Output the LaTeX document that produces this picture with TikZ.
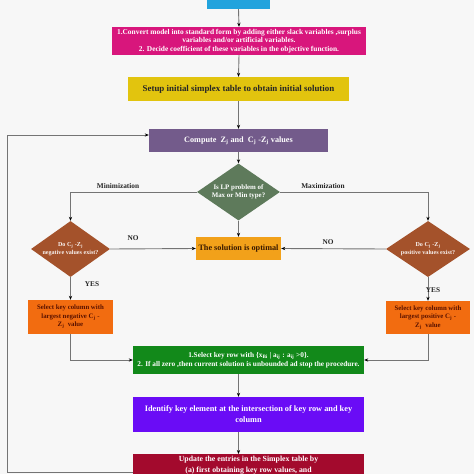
\documentclass[tikz,border=0pt]{standalone}
\usepackage{fontspec}
\setmainfont{Liberation Serif}
\usetikzlibrary{shapes.geometric,arrows.meta,calc}
\definecolor{bgc}{HTML}{F7F7F7}
\definecolor{startc}{HTML}{22A3DD}
\definecolor{pinkc}{HTML}{D8167C}
\definecolor{yellowc}{HTML}{E2C40E}
\definecolor{purplec}{HTML}{735B8B}
\definecolor{greyg}{HTML}{5E7A5B}
\definecolor{optc}{HTML}{F2A11A}
\definecolor{brownc}{HTML}{A4522B}
\definecolor{orangec}{HTML}{F26C10}
\definecolor{greenc}{HTML}{12891A}
\definecolor{violetc}{HTML}{6A0CF6}
\definecolor{redc}{HTML}{A30A2D}
\definecolor{linec}{HTML}{747474}
\definecolor{darktxt}{HTML}{3A1A00}
\definecolor{redtxt}{HTML}{5A1200}
\begin{document}
\begin{tikzpicture}[x=1pt,y=-1pt,
  box/.style={rectangle, inner sep=0.5pt, align=center, text=white,
    font=\bfseries\fontsize{7.4}{8.8}\selectfont},
  dia/.style={diamond, inner sep=0pt, aspect=1.5, align=center, text=white,
    font=\bfseries\fontsize{6.1}{8.4}\selectfont},
  arr/.style={draw=linec, line width=0.9pt, -{Stealth[length=4pt,width=3.2pt,black]}},
  lbl/.style={font=\bfseries\fontsize{7.3}{8}\selectfont, text=black!85}]
\useasboundingbox (0,0) rectangle (474,474);
\clip (0,0) rectangle (474,474);
\fill[bgc] (0,0) rectangle (474,474);

\node[box, fill=startc, minimum width=63pt, minimum height=24pt] (start) at (238.5,-3) {Start};
\node[box, fill=pinkc, minimum width=254pt, minimum height=28pt] (pink) at (239,41)
  {1.Convert model into standard form by adding either slack variables ,surplus\\%
variables and/or artificial variables.\\%
2. Decide coefficient of these variables in the objective function.};
\node[box, fill=yellowc, text=black!85, minimum width=221pt, minimum height=24pt,
  font=\bfseries\fontsize{8.9}{10}\selectfont] (yellow) at (238.5,89)
  {Setup initial simplex table to obtain initial solution};
\node[box, fill=purplec, minimum width=179pt, minimum height=23pt,
  font=\bfseries\fontsize{8.2}{10}\selectfont] (purple) at (238.5,140.5)
  {Compute~ Z\textsubscript{j} and~ C\textsubscript{j} -Z\textsubscript{j} values};
\node[dia, fill=greyg, minimum width=83pt, minimum height=57pt,
  font=\bfseries\fontsize{6.9}{8.6}\selectfont] (cdiam) at (238.5,192)
  {Is LP problem of\\Max or Min type?};
\node[box, fill=optc, text=darktxt, minimum width=85pt, minimum height=23pt,
  font=\bfseries\fontsize{8.2}{9}\selectfont] (opt) at (238.5,248.5)
  {The solution is optimal};
\node[dia, fill=brownc, text=white!92!brownc, minimum width=79pt, minimum height=56pt] (ldiam) at (70.5,249)
  {Do C\textsubscript{j} -Z\textsubscript{j}\\negative values exist?};
\node[dia, fill=brownc, text=white!92!brownc, minimum width=84pt, minimum height=56pt] (rdiam) at (428,249)
  {Do C\textsubscript{j} -Z\textsubscript{j}\\positive values exist?};
\node[box, fill=orangec, text=redtxt, minimum width=85pt, minimum height=34pt,
  font=\bfseries\fontsize{6.8}{8.6}\selectfont] (lor) at (70.5,317)
  {Select key column with\\largest negative C\textsubscript{j} -\\Z\textsubscript{j}~ value};
\node[box, fill=orangec, text=redtxt, minimum width=84pt, minimum height=33pt,
  font=\bfseries\fontsize{6.8}{8.6}\selectfont] (ror) at (428,317.5)
  {Select key column with\\largest positive C\textsubscript{j} -\\Z\textsubscript{j}~ value};
\node[box, fill=greenc, minimum width=231pt, minimum height=28pt,
  font=\bfseries\fontsize{7.3}{9.4}\selectfont] (green) at (248.5,360)
  {1.Select key row with \{x\textsubscript{Bi} | a\textsubscript{ij} : a\textsubscript{ij} >0\}.\\%
2. If all zero ,then current solution is unbounded ad stop the procedure.};
\node[box, fill=violetc, minimum width=231pt, minimum height=35pt,
  font=\bfseries\fontsize{8.3}{11}\selectfont] (violet) at (248.5,414.5)
  {Identify key element at the intersection of key row and key\\column};
\node[box, fill=redc, minimum width=231pt, anchor=north, inner ysep=1.5pt,
  font=\bfseries\fontsize{7.8}{11}\selectfont] (red) at (248.5,454)
  {Update the entries in the Simplex table by\\(a) first obtaining key row values, and\\ \strut};

\coordinate (loopB) at (7,472);
\coordinate (loopT) at (7,135);

\draw[arr] (start.south) -- (pink.north);
\draw[arr] (pink.south) -- (yellow.north);
\draw[arr] (yellow.south) -- (purple.north);
\draw[arr] (purple.south) -- (cdiam.north);
\draw[arr] (cdiam.south) -- (opt.north);
\draw[arr] (cdiam.west) -| (ldiam.north);
\draw[arr] (cdiam.east) -| (rdiam.north);
\draw[arr] (ldiam.east) -- (opt.west);
\draw[arr] (rdiam.west) -- (opt.east);
\draw[arr] (ldiam.south) -- (lor.north);
\draw[arr] (rdiam.south) -- (ror.north);
\draw[arr] (lor.south) |- (green.west);
\draw[arr] (ror.south) |- (green.east);
\draw[arr] (cdiam.south |- green.south) -- (cdiam.south |- violet.north);
\draw[arr] (cdiam.south |- violet.south) -- (cdiam.south |- red.north);
\draw[arr] (red.west |- loopB) -- (loopB) -- (loopT) -- (loopT -| purple.west);

\node[lbl] (lmin) at (118,186) {Minimization};
\node[lbl] (lmax) at (323,186) {Maximization};
\node[lbl] (lno1) at (133,238) {NO};
\node[lbl] (lno2) at (328,242) {NO};
\node[lbl] (lyes1) at (92,284) {YES};
\node[lbl] (lyes2) at (433,290) {YES};
\end{tikzpicture}
\end{document}
